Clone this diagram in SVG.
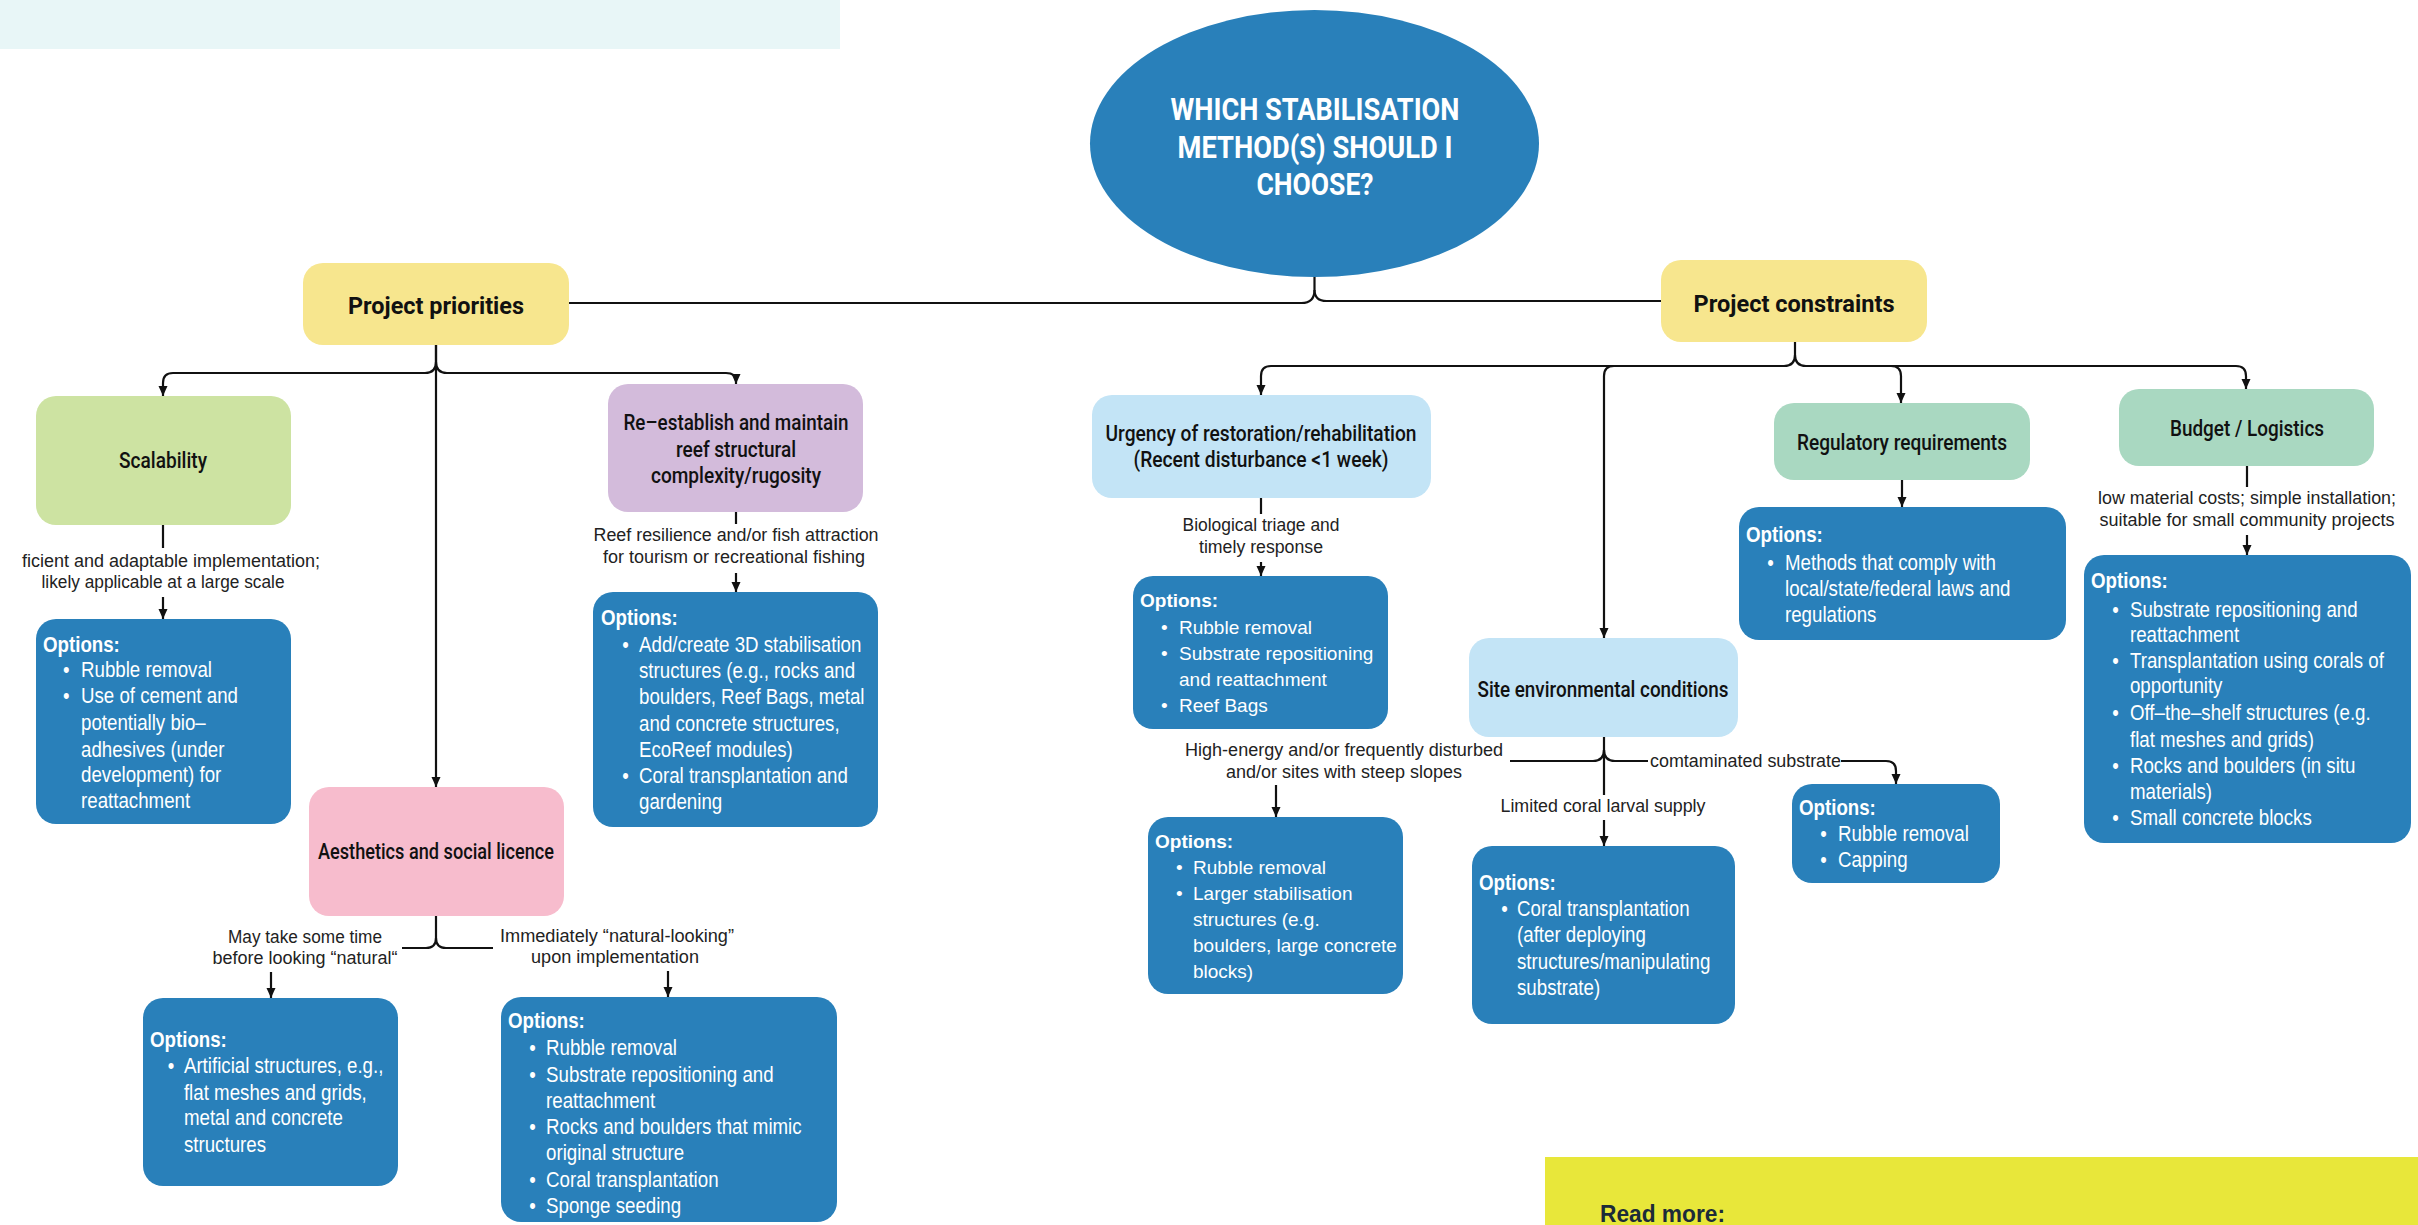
<svg xmlns="http://www.w3.org/2000/svg" width="2418" height="1225" viewBox="0 0 2418 1225">
<style>
.opt{fill:#2980ba}
.ot text{font-family:"Liberation Sans",Arial,sans-serif;font-size:21.5px;fill:#ffffff}
.ow text{font-family:"Liberation Sans",Arial,sans-serif;font-size:19px;fill:#ffffff}
.oh{font-weight:bold}
.lbl{font-family:"Liberation Sans",Arial,sans-serif;font-size:17.5px;fill:#222222;text-anchor:middle}
.nl{font-family:Roboto,"Liberation Sans",Arial,sans-serif;font-weight:500;font-size:21.5px;fill:#111111;text-anchor:middle}
.pl{font-family:Roboto,"Liberation Sans",Arial,sans-serif;font-weight:bold;font-size:24px;fill:#111111;text-anchor:middle}
.title{font-family:Roboto,"Liberation Sans",Arial,sans-serif;font-weight:bold;font-size:32px;fill:#ffffff;text-anchor:middle}
.c{fill:none;stroke:#111111;stroke-width:2.2}
.a{marker-end:url(#arr)}
</style>
<defs>
<marker id="arr" markerUnits="userSpaceOnUse" markerWidth="10" markerHeight="10" viewBox="0 0 10 10" refX="10" refY="5" orient="auto">
<path d="M0,0.5 L10,5 L0,9.5 z" fill="#111111"/>
</marker>
</defs>

<rect x="0" y="0" width="840" height="49" fill="#e8f6f7"/>
<rect x="1545" y="1157" width="873" height="68" fill="#e8e73a"/>
<text x="1600" y="1222" font-family="'Liberation Sans',Arial,sans-serif" font-weight="bold" font-size="23" fill="#1c2b39" textLength="125" lengthAdjust="spacingAndGlyphs">Read more:</text>

<g id="connectors">
<path class="c" d="M1314.5,277 V290 Q1314.5,303 1301.5,303 H569"/>
<path class="c" d="M1314.5,290 Q1314.5,301 1326.5,301 H1661"/>
<path class="c a" d="M436,345 V362 Q436,373 425,373 H173 Q163,373 163,383 V396"/>
<path class="c a" d="M436,362 Q436,373 447,373 H726 Q736,373 736,381 V384"/>
<path class="c a" d="M436,345 V787"/>
<path class="c" d="M163,525 V548"/>
<path class="c a" d="M163,597 V619"/>
<path class="c" d="M736,512 V524"/>
<path class="c a" d="M736,573 V592"/>
<path class="c" d="M436,916 V938 Q436,948 426,948 H402"/>
<path class="c" d="M436,938 Q436,948 446,948 H493"/>
<path class="c a" d="M271,972 V998"/>
<path class="c a" d="M668,971 V997"/>
<path class="c a" d="M1795,342 V355 Q1795,366 1784,366 H1271 Q1261,366 1261,376 V395"/>
<path class="c a" d="M1795,355 Q1795,366 1806,366 H1891 Q1901,366 1901,376 V403"/>
<path class="c a" d="M1880,366 H2236 Q2246,366 2246,376 V389"/>
<path class="c a" d="M1614,366 Q1604,366 1604,376 V638"/>
<path class="c" d="M1261,498 V514"/>
<path class="c a" d="M1261,562 V576"/>
<path class="c a" d="M1276,785 V817"/>
<path class="c" d="M1604,737 V795"/>
<path class="c" d="M1604,750 Q1604,761 1593,761 H1510"/>
<path class="c" d="M1604,750 Q1604,761 1615,761 H1648"/>
<path class="c a" d="M1841,761 H1886 Q1896,761 1896,771 V784"/>
<path class="c a" d="M1604,820 V846"/>
<path class="c a" d="M1902,480 V507"/>
<path class="c" d="M2247,466 V487"/>
<path class="c a" d="M2247,535 V555"/>
</g>

<g id="labels">
<text class="lbl" x="22" y="567" style="text-anchor:start" textLength="298" lengthAdjust="spacingAndGlyphs">ficient and adaptable implementation;</text>
<text class="lbl" x="163" y="588" textLength="243" lengthAdjust="spacingAndGlyphs">likely applicable at a large scale</text>
<text class="lbl" x="736" y="541" textLength="285" lengthAdjust="spacingAndGlyphs">Reef resilience and/or fish attraction</text>
<text class="lbl" x="734" y="563" textLength="262" lengthAdjust="spacingAndGlyphs">for tourism or recreational fishing</text>
<text class="lbl" x="305" y="943" textLength="154" lengthAdjust="spacingAndGlyphs">May take some time</text>
<text class="lbl" x="305" y="964" textLength="185" lengthAdjust="spacingAndGlyphs">before looking “natural“</text>
<text class="lbl" x="617" y="942" textLength="234" lengthAdjust="spacingAndGlyphs">Immediately “natural-looking”</text>
<text class="lbl" x="615" y="963" textLength="168" lengthAdjust="spacingAndGlyphs">upon implementation</text>
<text class="lbl" x="1261" y="531" textLength="157" lengthAdjust="spacingAndGlyphs">Biological triage and</text>
<text class="lbl" x="1261" y="553" textLength="124" lengthAdjust="spacingAndGlyphs">timely response</text>
<text class="lbl" x="1344" y="756" textLength="318" lengthAdjust="spacingAndGlyphs">High-energy and/or frequently disturbed</text>
<text class="lbl" x="1344" y="778" textLength="236" lengthAdjust="spacingAndGlyphs">and/or sites with steep slopes</text>
<text class="lbl" x="1650" y="767" style="text-anchor:start" textLength="191" lengthAdjust="spacingAndGlyphs">comtaminated substrate</text>
<text class="lbl" x="1603" y="812" textLength="205" lengthAdjust="spacingAndGlyphs">Limited coral larval supply</text>
<text class="lbl" x="2247" y="504" textLength="298" lengthAdjust="spacingAndGlyphs">low material costs; simple installation;</text>
<text class="lbl" x="2247" y="526" textLength="295" lengthAdjust="spacingAndGlyphs">suitable for small community projects</text>
</g>

<g id="question">
<ellipse cx="1314.5" cy="143.5" rx="224.5" ry="133.5" fill="#2980ba"/>
<text class="title" x="1315" y="120" textLength="289" lengthAdjust="spacingAndGlyphs">WHICH STABILISATION</text>
<text class="title" x="1315" y="158" textLength="275" lengthAdjust="spacingAndGlyphs">METHOD(S) SHOULD I</text>
<text class="title" x="1315" y="195" textLength="117" lengthAdjust="spacingAndGlyphs">CHOOSE?</text>
</g>

<g id="project-priorities">
<rect x="303" y="263" width="266" height="82" rx="20" fill="#f7e68e"/>
<text class="pl" x="436" y="314" textLength="176" lengthAdjust="spacingAndGlyphs">Project priorities</text>
</g>
<g id="project-constraints">
<rect x="1661" y="260" width="266" height="82" rx="20" fill="#f7e68e"/>
<text class="pl" x="1794" y="312" textLength="201" lengthAdjust="spacingAndGlyphs">Project constraints</text>
</g>

<g id="scalability">
<rect x="36" y="396" width="255" height="129" rx="20" fill="#cde3a2"/>
<text class="nl" x="163" y="468" textLength="88" lengthAdjust="spacingAndGlyphs">Scalability</text>
</g>
<g id="reef-complexity">
<rect x="608" y="384" width="255" height="128" rx="20" fill="#d3bbdb"/>
<text class="nl" x="736" y="430" textLength="225" lengthAdjust="spacingAndGlyphs">Re–establish and maintain</text>
<text class="nl" x="736" y="457" textLength="120" lengthAdjust="spacingAndGlyphs">reef structural</text>
<text class="nl" x="736" y="483" textLength="170" lengthAdjust="spacingAndGlyphs">complexity/rugosity</text>
</g>
<g id="aesthetics">
<rect x="309" y="787" width="255" height="129" rx="20" fill="#f7bccd"/>
<text class="nl" x="436" y="859" textLength="236" lengthAdjust="spacingAndGlyphs">Aesthetics and social licence</text>
</g>
<g id="urgency">
<rect x="1092" y="395" width="339" height="103" rx="20" fill="#c3e4f6"/>
<text class="nl" x="1261" y="441" textLength="311" lengthAdjust="spacingAndGlyphs">Urgency of restoration/rehabilitation</text>
<text class="nl" x="1261" y="467" textLength="255" lengthAdjust="spacingAndGlyphs">(Recent disturbance &lt;1 week)</text>
</g>
<g id="site-conditions">
<rect x="1469" y="638" width="269" height="99" rx="20" fill="#c3e4f6"/>
<text class="nl" x="1603" y="697" textLength="251" lengthAdjust="spacingAndGlyphs">Site environmental conditions</text>
</g>
<g id="regulatory">
<rect x="1774" y="403" width="256" height="77" rx="20" fill="#a9d8c1"/>
<text class="nl" x="1902" y="450" textLength="210" lengthAdjust="spacingAndGlyphs">Regulatory requirements</text>
</g>
<g id="budget">
<rect x="2119" y="389" width="255" height="77" rx="20" fill="#a9d8c1"/>
<text class="nl" x="2247" y="436" textLength="154" lengthAdjust="spacingAndGlyphs">Budget / Logistics</text>
</g>

<g id="options-scalability">
<rect class="opt" x="36" y="619" width="255" height="205" rx="20"/>
<g class="ot" transform="translate(43,0) scale(0.87,1)">
<text class="oh" x="0" y="652">Options:</text>
<text x="23" y="677">•</text><text x="43.7" y="677">Rubble removal</text>
<text x="23" y="703">•</text><text x="43.7" y="703">Use of cement and</text>
<text x="43.7" y="730">potentially bio–</text>
<text x="43.7" y="757">adhesives (under</text>
<text x="43.7" y="782">development) for</text>
<text x="43.7" y="808">reattachment</text>
</g>
</g>

<g id="options-complexity">
<rect class="opt" x="593" y="592" width="285" height="235" rx="20"/>
<g class="ot" transform="translate(601,0) scale(0.87,1)">
<text class="oh" x="0" y="625">Options:</text>
<text x="24.5" y="652">•</text><text x="43.7" y="652">Add/create 3D stabilisation</text>
<text x="43.7" y="678">structures (e.g., rocks and</text>
<text x="43.7" y="704">boulders, Reef Bags, metal</text>
<text x="43.7" y="731">and concrete structures,</text>
<text x="43.7" y="757">EcoReef modules)</text>
<text x="24.5" y="783">•</text><text x="43.7" y="783">Coral transplantation and</text>
<text x="43.7" y="809">gardening</text>
</g>
</g>

<g id="options-aesthetics-slow">
<rect class="opt" x="143" y="998" width="255" height="188" rx="20"/>
<g class="ot" transform="translate(150,0) scale(0.87,1)">
<text class="oh" x="0" y="1047">Options:</text>
<text x="20.5" y="1073">•</text><text x="39" y="1073">Artificial structures, e.g.,</text>
<text x="39" y="1100">flat meshes and grids,</text>
<text x="39" y="1125">metal and concrete</text>
<text x="39" y="1152">structures</text>
</g>
</g>

<g id="options-aesthetics-fast">
<rect class="opt" x="501" y="997" width="336" height="225" rx="20"/>
<g class="ot" transform="translate(508,0) scale(0.87,1)">
<text class="oh" x="0" y="1028">Options:</text>
<text x="24.5" y="1055">•</text><text x="43.7" y="1055">Rubble removal</text>
<text x="24.5" y="1082">•</text><text x="43.7" y="1082">Substrate repositioning and</text>
<text x="43.7" y="1108">reattachment</text>
<text x="24.5" y="1134">•</text><text x="43.7" y="1134">Rocks and boulders that mimic</text>
<text x="43.7" y="1160">original structure</text>
<text x="24.5" y="1187">•</text><text x="43.7" y="1187">Coral transplantation</text>
<text x="24.5" y="1213">•</text><text x="43.7" y="1213">Sponge seeding</text>
</g>
</g>

<g id="options-urgency">
<rect class="opt" x="1133" y="576" width="255" height="153" rx="20"/>
<g class="ow">
<text class="oh" x="1140" y="607">Options:</text>
<text x="1161" y="634">•</text><text x="1179" y="634">Rubble removal</text>
<text x="1161" y="660">•</text><text x="1179" y="660">Substrate repositioning</text>
<text x="1179" y="686">and reattachment</text>
<text x="1161" y="712">•</text><text x="1179" y="712">Reef Bags</text>
</g>
</g>

<g id="options-high-energy">
<rect class="opt" x="1148" y="817" width="255" height="177" rx="20"/>
<g class="ow">
<text class="oh" x="1155" y="848">Options:</text>
<text x="1176" y="874">•</text><text x="1193" y="874">Rubble removal</text>
<text x="1176" y="900">•</text><text x="1193" y="900">Larger stabilisation</text>
<text x="1193" y="926">structures (e.g.</text>
<text x="1193" y="952">boulders, large concrete</text>
<text x="1193" y="978">blocks)</text>
</g>
</g>

<g id="options-larval">
<rect class="opt" x="1472" y="846" width="263" height="178" rx="20"/>
<g class="ot" transform="translate(1479,0) scale(0.87,1)">
<text class="oh" x="0" y="890">Options:</text>
<text x="25.5" y="916">•</text><text x="43.7" y="916">Coral transplantation</text>
<text x="43.7" y="942">(after deploying</text>
<text x="43.7" y="969">structures/manipulating</text>
<text x="43.7" y="995">substrate)</text>
</g>
</g>

<g id="options-contaminated">
<rect class="opt" x="1792" y="784" width="208" height="99" rx="20"/>
<g class="ot" transform="translate(1799,0) scale(0.87,1)">
<text class="oh" x="0" y="815">Options:</text>
<text x="24.5" y="841">•</text><text x="44.8" y="841">Rubble removal</text>
<text x="24.5" y="867">•</text><text x="44.8" y="867">Capping</text>
</g>
</g>

<g id="options-regulatory">
<rect class="opt" x="1739" y="507" width="327" height="133" rx="20"/>
<g class="ot" transform="translate(1746,0) scale(0.87,1)">
<text class="oh" x="0" y="542">Options:</text>
<text x="24.5" y="570">•</text><text x="44.8" y="570">Methods that comply with</text>
<text x="44.8" y="596">local/state/federal laws and</text>
<text x="44.8" y="622">regulations</text>
</g>
</g>

<g id="options-budget">
<rect class="opt" x="2084" y="555" width="327" height="288" rx="20"/>
<g class="ot" transform="translate(2091,0) scale(0.87,1)">
<text class="oh" x="0" y="588">Options:</text>
<text x="24.5" y="617">•</text><text x="44.8" y="617">Substrate repositioning and</text>
<text x="44.8" y="642">reattachment</text>
<text x="24.5" y="668">•</text><text x="44.8" y="668">Transplantation using corals of</text>
<text x="44.8" y="693">opportunity</text>
<text x="24.5" y="720">•</text><text x="44.8" y="720">Off–the–shelf structures (e.g.</text>
<text x="44.8" y="747">flat meshes and grids)</text>
<text x="24.5" y="773">•</text><text x="44.8" y="773">Rocks and boulders (in situ</text>
<text x="44.8" y="799">materials)</text>
<text x="24.5" y="825">•</text><text x="44.8" y="825">Small concrete blocks</text>
</g>
</g>
</svg>
